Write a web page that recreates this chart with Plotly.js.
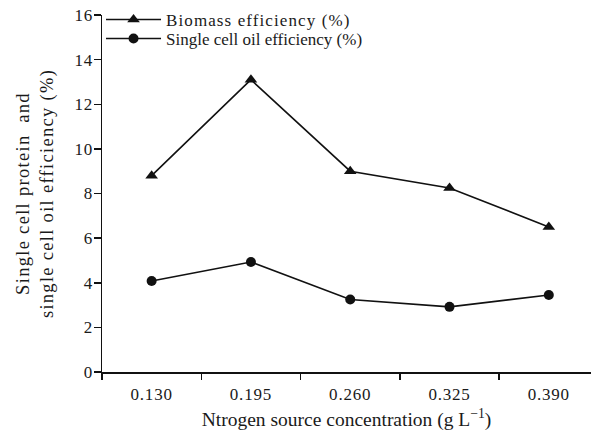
<!DOCTYPE html>
<html>
<head>
<meta charset="utf-8">
<script src="https://cdn.plot.ly/plotly-3.0.1.min.js"></script>
<style>
html,body{margin:0;padding:0;background:#fff;}
#chart{width:591px;height:431px;}
.legendtext{letter-spacing:1.1px;}
.xtick text,.ytick text{letter-spacing:0.8px;}
.g-ytitle text{letter-spacing:1.3px;}
</style>
</head>
<body>
<div id="chart"></div>
<script>
const categories = ["0.130", "0.195", "0.260", "0.325", "0.390"];
const biomassEfficiency = [8.8, 13.1, 9.0, 8.25, 6.5];
const oilEfficiency = [4.08, 4.93, 3.25, 2.92, 3.45];
const yTicks = [0, 2, 4, 6, 8, 10, 12, 14, 16];
const seriesNames = ["Biomass efficiency (%)", "Single cell oil efficiency (%)"];

const serif = "Liberation Serif";
const ink = "#1a1a1a";

const traces = [
  {x: categories, y: biomassEfficiency, name: seriesNames[0], type: "scatter", mode: "lines+markers", legend: "legend",
   line: {color: "#111", width: 1.6}, marker: {symbol: "triangle-up", size: 11, color: "#111"}},
  {x: categories, y: oilEfficiency, name: seriesNames[1], type: "scatter", mode: "lines+markers", legend: "legend2",
   line: {color: "#111", width: 1.6}, marker: {symbol: "circle", size: 10, color: "#111"}}
];

const legendBase = {xanchor: "left", yanchor: "middle", bgcolor: "rgba(0,0,0,0)",
  font: {family: serif, size: 17, color: ink}, itemwidth: 55};

const layout = {
  width: 591, height: 431,
  margin: {l: 102, r: 0, t: 15, b: 59},
  paper_bgcolor: "#fff", plot_bgcolor: "#fff",
  font: {family: serif, color: ink, size: 17},
  showlegend: true,
  legend: Object.assign({x: -0.002, y: 0.986}, legendBase),
  legend2: Object.assign({x: -0.002, y: 0.933}, legendBase),
  xaxis: {
    type: "category", range: [-0.5, 4.425], tickson: "boundaries",
    showline: true, linecolor: "#111", linewidth: 1.5, mirror: false,
    ticks: "outside", ticklen: 6, tickcolor: "#111", tickwidth: 1.5,
    ticklabelstandoff: 6,
    showgrid: false, zeroline: false,
    tickfont: {family: serif, size: 17, color: ink},
    title: {text: "\u00a0\u00a0\u00a0\u00a0Ntrogen source concentration (g L<sup>\u22121</sup>)", font: {family: serif, size: 19.5, color: ink}, standoff: 10}
  },
  yaxis: {
    range: [0, 16], tickvals: yTicks, ticktext: yTicks.map(String),
    showline: true, linecolor: "#111", linewidth: 1.5,
    ticks: "outside", ticklen: 7, tickcolor: "#111", tickwidth: 1.5,
    ticklabelstandoff: -3,
    showgrid: false, zeroline: false,
    tickfont: {family: serif, size: 17, color: ink},
    title: {text: "Single cell protein  and<br>single cell oil efficiency (%)", font: {family: serif, size: 18.5, color: ink}, standoff: 16}
  }
};

Plotly.newPlot("chart", traces, layout, {displayModeBar: false, staticPlot: true});
</script>
</body>
</html>
